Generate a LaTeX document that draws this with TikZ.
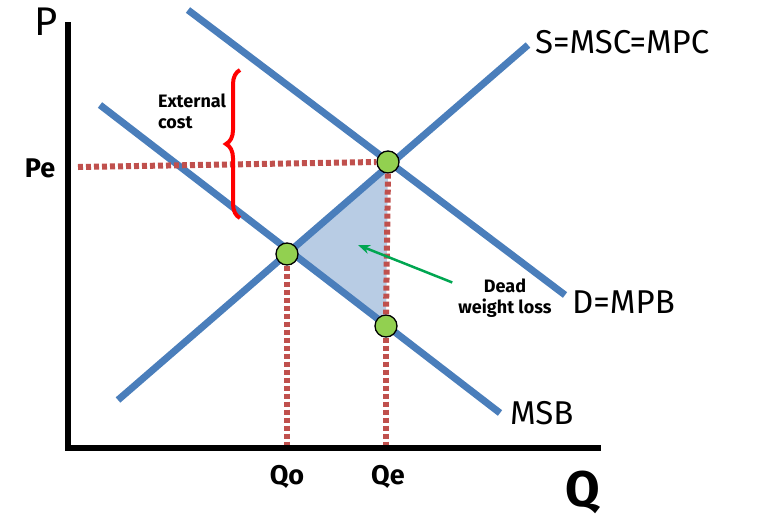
\documentclass[tikz,border=0pt]{standalone}
\usepackage{fontspec}
\setmainfont{Fira Sans}
\usetikzlibrary{decorations.pathreplacing,arrows.meta}
\definecolor{lblue}{RGB}{74,126,187}
\definecolor{dred}{RGB}{192,80,77}
\definecolor{pgreen}{RGB}{146,208,80}
\definecolor{triblue}{RGB}{184,204,228}
\definecolor{agreen}{RGB}{0,166,81}
\tikzset{
 curve/.style={lblue,line width=7pt},
 dots/.style={dred,line width=6pt,dash pattern=on 5pt off 3pt},
 pt/.style={circle,draw=black,line width=1.3pt,fill=pgreen,minimum size=22pt,inner sep=0pt},
 lbl/.style={font=\fontsize{33}{35}\selectfont,inner sep=0pt},
 small/.style={font=\fontsize{18}{21}\selectfont\bfseries,align=left,inner sep=0pt}
}
\begin{document}
\begin{tikzpicture}[x=1pt,y=-1pt]
\useasboundingbox (0,0) rectangle (760,528);
\fill[triblue] (287,254) -- (388,162) -- (386,326) -- cycle;
\coordinate (pe) at (78,167);
\coordinate (qo) at (287,445);
\coordinate (qe) at (386,445);
\coordinate (s1) at (118,400); \coordinate (s2) at (528,45);
\coordinate (d1) at (188,10); \coordinate (d2) at (565,295);
\coordinate (m1) at (100,105); \coordinate (m2) at (500,413);
\draw[curve] (s1) -- (s2);
\draw[curve] (d1) -- (d2);
\draw[curve] (m1) -- (m2);
\node[pt] (e) at (388,162) {};
\node[pt] (o) at (287,254) {};
\node[pt] (b) at (386,326) {};
\draw[dots] (pe) -- (e.west);
\draw[dots] (o.south) -- (qo);
\draw[dots] (e.south) -- (b.north);
\draw[dots] (b.south) -- (qe);
\coordinate (top) at (68,22); \coordinate (org) at (68,448); \coordinate (rt) at (601,448);
\draw[line width=6pt] (top) -- (org) -- (rt);
\node[lbl,font=\fontsize{40}{42}\selectfont] (P) at (46,22) {P};
\node[lbl,font=\fontsize{50}{52}\selectfont\bfseries] (Q) at (583,492) {Q};
\node[lbl,font=\fontsize{27}{29}\selectfont\bfseries] (Pe) at (40,168) {Pe};
\node[lbl,font=\fontsize{27}{29}\selectfont\bfseries] (Qo) at (287,477) {Qo};
\node[lbl,font=\fontsize{27}{29}\selectfont\bfseries] (Qe) at (388,477) {Qe};
\node[lbl,anchor=west] (S) at (535,42) {S=MSC=MPC};
\node[lbl,anchor=west] (D) at (572,302) {D=MPB};
\node[lbl,anchor=west] (M) at (510,413) {MSB};
\coordinate (b1) at (240,218); \coordinate (b2) at (240,70);
\draw[red,line width=4pt,decorate,decoration={brace,amplitude=14pt}] (b1) -- (b2);
\node[small] (ext) at (192,111) {External\\cost};
\node[small,align=center] (dwl) at (505,298) {Dead\\weight loss};
\coordinate (ah) at (358,245);
\draw[-{Stealth[length=12pt]},agreen,line width=2.5pt] (dwl.north west) ++(-6,4) -- (ah);
\end{tikzpicture}
\end{document}
